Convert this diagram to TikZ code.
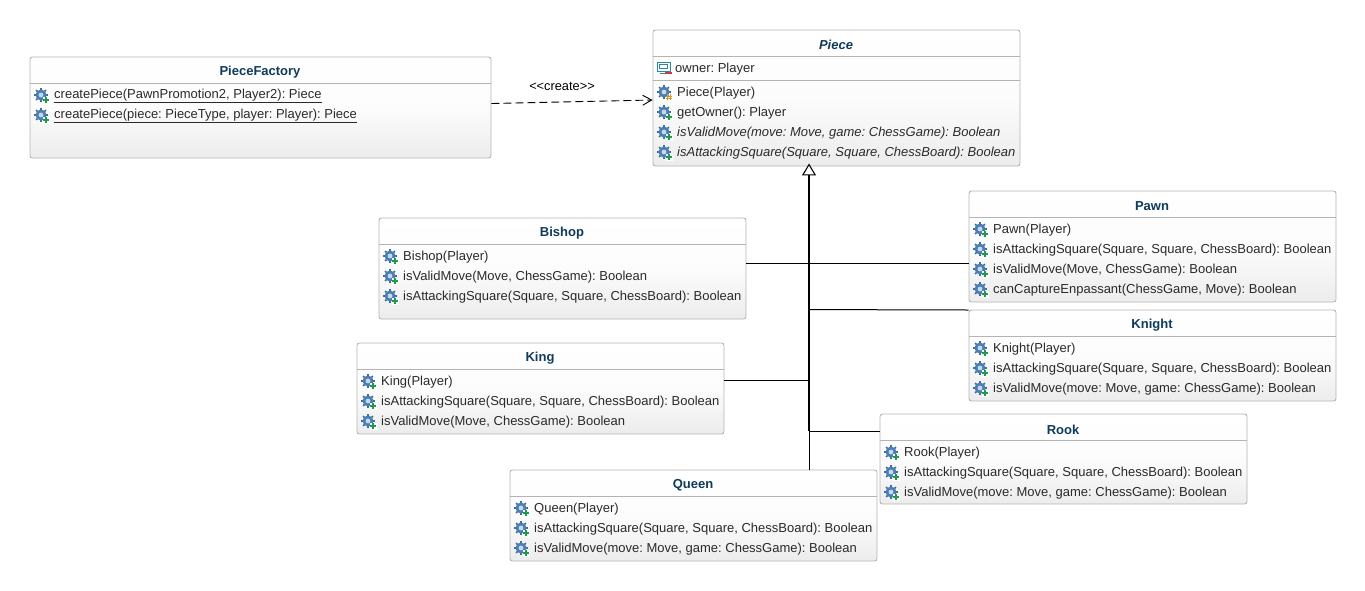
\documentclass[tikz,border=0pt]{standalone}
\usepackage{fontspec}
\setmainfont{Liberation Sans}
\usetikzlibrary{arrows.meta, positioning, calc}
\definecolor{TitleBlue}{HTML}{0F3B5C}
\definecolor{BoxEdge}{HTML}{B4B4B4}
\definecolor{BoxFade}{HTML}{ECECEC}
\definecolor{MemberInk}{HTML}{2A2A2A}
\definecolor{GearBlue}{HTML}{4A7FB5}
\definecolor{PlusGreen}{HTML}{1E9A4E}
\definecolor{HashGold}{HTML}{D89A1E}
\definecolor{MinusRed}{HTML}{D23A3A}
\definecolor{FieldTeal}{HTML}{2F86A8}
\frenchspacing

\begin{document}
\begin{tikzpicture}[x=1pt, y=-1pt,
  classbox/.style={draw=BoxEdge, line width=0.9pt, rounded corners=2.5pt, inner sep=0pt,
    minimum width=367pt, top color=white, bottom color=BoxFade, middle color=white!85!BoxFade},
  classname/.style={font=\fontsize{13}{15}\selectfont\bfseries, text=TitleBlue, inner sep=0pt},
  member/.style={font=\fontsize{13}{15}\selectfont, text=MemberInk, anchor=west, inner sep=0pt},
  sepline/.style={BoxEdge, line width=0.9pt},
  inherit/.style={black, line width=1pt},
  trunk/.style={black, line width=1.7pt},
  gear/.pic={
    \foreach \ang in {0,45,...,315}
      \draw[GearBlue!85!black, line width=1.5pt] (0,0) -- ++(\ang:7);
    \fill[GearBlue] (0,0) circle (5.5);
    \fill[white!70!GearBlue] (0,0) circle (2.4);
  },
  pubop/.pic={
    \pic at (0,0) {gear};
    \fill[white] (1.5,1.5) rectangle (9,9);
    \draw[PlusGreen, line width=2.2pt] (2.2,5.3) -- (8.4,5.3) (5.3,2.2) -- (5.3,8.4);
  },
  protop/.pic={
    \pic at (0,0) {gear};
    \draw[HashGold, line width=1pt] (3,2) -- (3,8) (6,2) -- (6,8) (1.5,4) -- (7.5,4) (1.5,6.5) -- (7.5,6.5);
  },
  privfield/.pic={
    \draw[FieldTeal, line width=1pt, fill=white] (-7,-5) rectangle (6,4);
    \draw[FieldTeal, line width=1pt] (-4.5,-2.5) rectangle (3.5,1.5) (-4,6) -- (3,6);
    \draw[MinusRed, line width=2.2pt] (1,6) -- (7.5,6);
  }
]
  \useasboundingbox (0,0) rectangle (1365,590);

  % class boxes
  \node[classbox, minimum width=461pt, minimum height=101pt] (factory) at (260.5,107.5) {};
  \node[classbox, minimum height=136pt] (piece) at (836.5,98) {};
  \node[classbox, minimum height=111pt] (pawn) at (1152.5,246.5) {};
  \node[classbox, minimum height=91pt] (knight) at (1152.5,355.5) {};
  \node[classbox, minimum height=90pt] (rook) at (1063.5,459) {};
  \node[classbox, minimum height=101pt] (bishop) at (562.5,268.5) {};
  \node[classbox, minimum height=91pt] (king) at (540.5,388.5) {};
  \node[classbox, minimum height=91pt] (queen) at (693.5,515.5) {};

  % compartments
  \draw[sepline] (factory.west |- 0,83) -- (factory.east |- 0,83);
  \draw[sepline] (piece.west |- 0,56) -- (piece.east |- 0,56);
  \draw[sepline] (piece.west |- 0,80) -- (piece.east |- 0,80);
  \draw[sepline] (pawn.west |- 0,217) -- (pawn.east |- 0,217);
  \draw[sepline] (knight.west |- 0,336) -- (knight.east |- 0,336);
  \draw[sepline] (rook.west |- 0,440) -- (rook.east |- 0,440);
  \draw[sepline] (bishop.west |- 0,244) -- (bishop.east |- 0,244);
  \draw[sepline] (king.west |- 0,369) -- (king.east |- 0,369);
  \draw[sepline] (queen.west |- 0,496) -- (queen.east |- 0,496);

  % titles
  \node[classname] (factorytitle) at (260,72.5) {PieceFactory};
  \node[classname] (piecetitle) at (836,45) {\itshape Piece};
  \node[classname] (pawntitle) at (1152,206.5) {Pawn};
  \node[classname] (knighttitle) at (1152,325.5) {Knight};
  \node[classname] (rooktitle) at (1063,429.5) {Rook};
  \node[classname] (bishoptitle) at (562,233.5) {Bishop};
  \node[classname] (kingtitle) at (540,358.5) {King};
  \node[classname] (queentitle) at (693,485.5) {Queen};

  % members
  \node[member] (factory1) at (54,96) {\underline{createPiece(PawnPromotion2, Player2): Piece}};
  \node[member] (factory2) at (54,116) {\underline{createPiece(piece: PieceType, player: Player): Piece}};

  \node[member] (piece0) at (675,69) {owner: Player};
  \node[member] (piece1) at (677,93) {Piece(Player)};
  \node[member] (piece2) at (677,113) {getOwner(): Player};
  \node[member] (piece3) at (677,133) {\itshape isValidMove(move: Move, game: ChessGame): Boolean};
  \node[member] (piece4) at (677,153) {\itshape isAttackingSquare(Square, Square, ChessBoard): Boolean};

  \node[member] (pawn1) at (993,230) {Pawn(Player)};
  \node[member] (pawn2) at (993,250) {isAttackingSquare(Square, Square, ChessBoard): Boolean};
  \node[member] (pawn3) at (993,270) {isValidMove(Move, ChessGame): Boolean};
  \node[member] (pawn4) at (993,290) {canCaptureEnpassant(ChessGame, Move): Boolean};

  \node[member] (knight1) at (993,349) {Knight(Player)};
  \node[member] (knight2) at (993,369) {isAttackingSquare(Square, Square, ChessBoard): Boolean};
  \node[member] (knight3) at (993,389) {isValidMove(move: Move, game: ChessGame): Boolean};

  \node[member] (rook1) at (904,453) {Rook(Player)};
  \node[member] (rook2) at (904,473) {isAttackingSquare(Square, Square, ChessBoard): Boolean};
  \node[member] (rook3) at (904,493) {isValidMove(move: Move, game: ChessGame): Boolean};

  \node[member] (bishop1) at (403,257) {Bishop(Player)};
  \node[member] (bishop2) at (403,277) {isValidMove(Move, ChessGame): Boolean};
  \node[member] (bishop3) at (403,297) {isAttackingSquare(Square, Square, ChessBoard): Boolean};

  \node[member] (king1) at (381,382) {King(Player)};
  \node[member] (king2) at (381,402) {isAttackingSquare(Square, Square, ChessBoard): Boolean};
  \node[member] (king3) at (381,422) {isValidMove(Move, ChessGame): Boolean};

  \node[member] (queen1) at (534,509) {Queen(Player)};
  \node[member] (queen2) at (534,529) {isAttackingSquare(Square, Square, ChessBoard): Boolean};
  \node[member] (queen3) at (534,549) {isValidMove(move: Move, game: ChessGame): Boolean};

  % icons
  \foreach \iy in {95,115} \pic at (41,\iy) {pubop};
  \pic at (664,67) {privfield};
  \pic at (664,92) {protop};
  \foreach \iy in {112,132,152} \pic at (664,\iy) {pubop};
  \foreach \iy in {229,249,269,289,348,368,388} \pic at (980,\iy) {pubop};
  \foreach \iy in {452,472,492} \pic at (891,\iy) {pubop};
  \foreach \iy in {256,276,296} \pic at (390,\iy) {pubop};
  \foreach \iy in {381,401,421} \pic at (368,\iy) {pubop};
  \foreach \iy in {508,528,548} \pic at (521,\iy) {pubop};

  % connectors
  \coordinate (junction) at (809,431);
  \draw[inherit] ([yshift=5.5pt]bishop.east) -- ([yshift=-16.5pt]pawn.west);
  \draw[inherit] ([yshift=45.5pt]knight.west) -- (junction |- knight.north);
  \draw[inherit] ([yshift=8.5pt]king.east) -- (junction |- 0,380);
  \draw[inherit] ([yshift=28pt]rook.west) -- (junction);
  \draw[inherit] ([xshift=115.5pt]queen.north) -- (junction);
  \draw[trunk, -{Triangle[open, fill=white, length=12pt, width=14pt, line width=1.1pt]}] (junction) -- ([xshift=-27.5pt, yshift=3pt]piece.south);
  \draw[black, line width=0.9pt, dash pattern=on 8pt off 4pt, -{Straight Barb[length=9pt, width=10pt, line width=0.9pt]}] ([yshift=4pt]factory.east) -- node[above=11pt, xshift=-10pt, font=\fontsize{12.8}{15}\selectfont, text=black, inner sep=0pt] (createlabel) {<{}<create>{}>} ([yshift=-2pt]piece.west);
\end{tikzpicture}
\end{document}
